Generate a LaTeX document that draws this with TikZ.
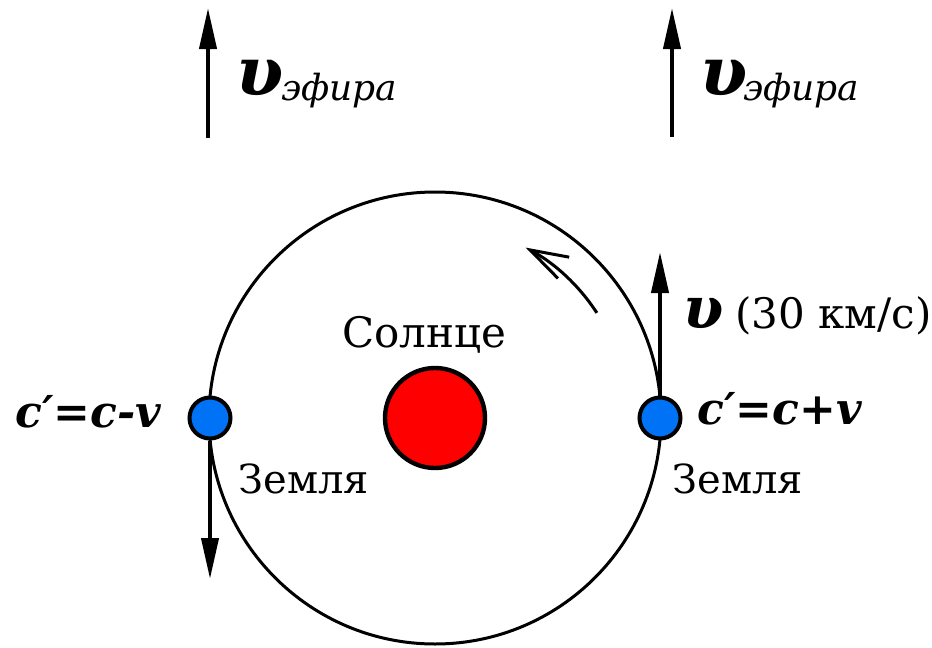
\documentclass[tikz,border=0pt]{standalone}
\usepackage{fontspec}
\setmainfont{DejaVu Serif}
\usetikzlibrary{arrows.meta, positioning}
\definecolor{earthblue}{RGB}{0,114,245}

\begin{document}
\begin{tikzpicture}[
    x=0.5pt, y=-0.5pt,
    font=\fontsize{21pt}{24pt}\selectfont,
    every node/.style={inner sep=0pt},
    vec/.style={line width=2pt, -{Triangle[length=20.5pt, width=8.5pt]}},
    planet/.style={circle, draw, line width=2pt, fill=earthblue, minimum size=20.5pt},
    ups/.style={anchor=base west, font=\fontsize{34pt}{38pt}\selectfont\bfseries\itshape},
    sub/.style={anchor=base west, font=\fontsize{18pt}{20pt}\selectfont\itshape},
    eq/.style={anchor=base west, font=\fontsize{22pt}{24pt}\selectfont\bfseries\itshape},
    lbl/.style={anchor=base west}
  ]
  \useasboundingbox (0,0) rectangle (932,648);
  % orbit and sun
  \node[circle, draw, line width=2.2pt, fill=red, minimum size=50pt] (sun) at (435,418) {};
  \draw[line width=1.5pt] (sun.center) circle[radius=113pt];
  \draw[line width=1.5pt, -{Straight Barb[length=19pt, width=12pt]}]
    ([shift={(33:96.5pt)}]sun.center) arc[start angle=33, end angle=62, radius=96.5pt];
  \node[lbl] (sunlbl) at (342,347) {Солнце};
  % earth positions
  \node[planet] (earthL) at (210,418) {};
  \node[planet] (earthR) at (660,418) {};
  \coordinate (tipL) at (210,579);
  \coordinate (tipR) at (660,252);
  \draw[vec] (earthL.south) -- (tipL);
  \draw[vec] (earthR.north) -- (tipR);
  \node[eq] (eqL) at (15,427) {c′=c-v};
  \node[eq] (eqR) at (697,424) {c′=c+v};
  \node[lbl, font=\fontsize{20pt}{24pt}\selectfont] (earthLlbl) at (238,493) {Земля};
  \node[lbl, font=\fontsize{20pt}{24pt}\selectfont] (earthRlbl) at (672,493) {Земля};
  \node[ups, font=\fontsize{29pt}{32pt}\selectfont\bfseries\itshape] (vorb) at (683,328) {υ};
  \node[lbl, font=\fontsize{21pt}{24pt}\selectfont] (vval) at (735,328) {(30 км/с)};
  % ether wind
  \coordinate (etherL0) at (208,138);
  \coordinate (etherL1) at (208,8);
  \coordinate (etherR0) at (672,137);
  \coordinate (etherR1) at (672,8);
  \draw[vec] (etherL0) -- (etherL1);
  \draw[vec] (etherR0) -- (etherR1);
  \node[ups] (upsL) at (236,95) {υ};
  \node[sub] (etherLlbl) at (281,100) {эфира};
  \node[ups] (upsR) at (700,95) {υ};
  \node[sub] (etherRlbl) at (743,100) {эфира};
\end{tikzpicture}
\end{document}
